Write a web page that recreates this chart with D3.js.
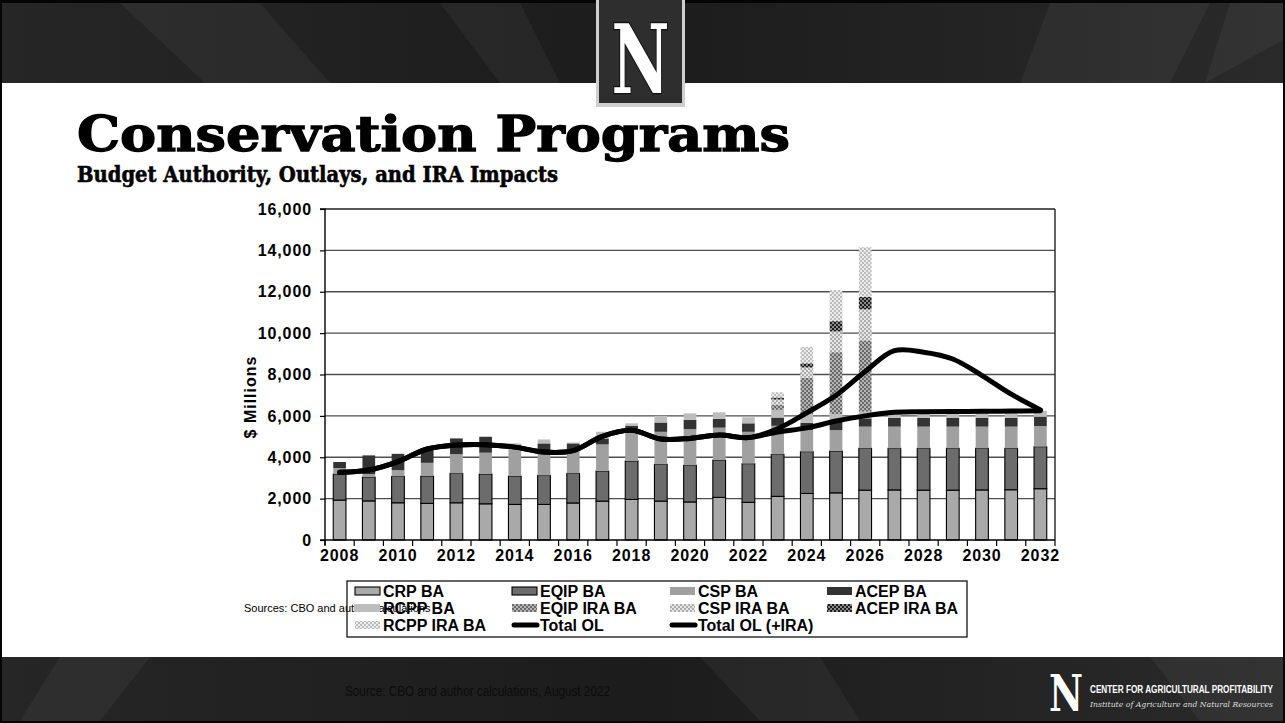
<!DOCTYPE html>
<html><head><meta charset="utf-8">
<script src="https://cdn.jsdelivr.net/npm/d3@7/dist/d3.min.js"></script>
<style>html,body{margin:0;padding:0;background:#000;} svg{display:block;}</style>
</head><body><svg id="c" width="1285" height="723"></svg>
<script>
// ---------------- DATA ----------------
const years = [2008,2009,2010,2011,2012,2013,2014,2015,2016,2017,2018,2019,2020,2021,2022,2023,2024,2025,2026,2027,2028,2029,2030,2031,2032];
const crpBA  = [1930,1890,1800,1770,1800,1750,1720,1720,1790,1880,1960,1880,1840,2060,1820,2110,2250,2280,2410,2420,2410,2410,2420,2430,2480];
const eqipBA = [1260,1150,1275,1320,1420,1440,1370,1400,1430,1450,1860,1780,1770,1800,1870,2030,2020,2020,2020,2010,2020,2020,2010,2000,2030];
const cspBA  = [290,150,300,640,930,1030,1500,1190,1090,1290,1490,1570,1750,1570,1540,1380,1050,1010,1050,1050,1050,1050,1050,1050,1000];
const acepBA = [290,900,790,700,760,770,0,360,360,290,200,450,440,430,410,400,350,410,400,430,430,430,430,430,450];
const rcppBA = [0,0,0,0,0,0,80,190,40,320,130,320,320,310,290,370,420,360,320,240,240,240,240,240,290];
const eqipIRA = [0,0,0,0,0,0,0,0,0,0,0,0,0,0,0,250,1750,3000,3450,0,0,0,0,0,0];
const cspIRA  = [0,0,0,0,0,0,0,0,0,0,0,0,0,0,0,250,500,1000,1500,0,0,0,0,0,0];
const acepIRA = [0,0,0,0,0,0,0,0,0,0,0,0,0,0,0,100,200,500,600,0,0,0,0,0,0];
const rcppIRA = [0,0,0,0,0,0,0,0,0,0,0,0,0,0,0,250,800,1500,2400,0,0,0,0,0,0];
const totalOL    = [3270,3380,3790,4400,4590,4610,4490,4250,4320,5010,5300,4880,4910,5070,4950,5220,5420,5750,6000,6170,6200,6210,6220,6230,6250];
const totalOLIRA = [3270,3380,3790,4400,4590,4610,4490,4250,4320,5010,5300,4880,4910,5070,4950,5380,6150,7000,8150,9150,9080,8750,7950,7050,6290];
const yTicks = [0,2000,4000,6000,8000,10000,12000,14000,16000];
const xTickLabels = [2008,2010,2012,2014,2016,2018,2020,2022,2024,2026,2028,2030,2032];
const seriesNames = ["CRP BA","EQIP BA","CSP BA","ACEP BA","RCPP BA","EQIP IRA BA","CSP IRA BA","ACEP IRA BA","RCPP IRA BA"];
const lineNames = ["Total OL","Total OL (+IRA)"];

// ---------------- SETUP ----------------
const svg = d3.select("#c");
const FONT = "'Liberation Sans', Arial, sans-serif";
const defs = svg.append("defs");

function checker(id, bg, fg){
  const p = defs.append("pattern").attr("id",id).attr("patternUnits","userSpaceOnUse").attr("width",4).attr("height",4);
  p.append("rect").attr("width",4).attr("height",4).attr("fill",bg);
  p.append("rect").attr("x",0).attr("y",0).attr("width",2).attr("height",2).attr("fill",fg);
  p.append("rect").attr("x",2).attr("y",2).attr("width",2).attr("height",2).attr("fill",fg);
}
checker("pEqip","#b4b4b4","#6a6a6a");
checker("pCsp","#e6e6e6","#acacac");
checker("pAcep","#8a8a8a","#1e1e1e");
checker("pRcpp","#ececec","#bcbcbc");

const styles = [
  {fill:"#a9a9a9", stroke:"#000"},
  {fill:"#6c6c6c", stroke:"#000"},
  {fill:"#a0a0a0", stroke:"none"},
  {fill:"#333333", stroke:"none"},
  {fill:"#bdbdbd", stroke:"none"},
  {fill:"url(#pEqip)", stroke:"none"},
  {fill:"url(#pCsp)", stroke:"none"},
  {fill:"url(#pAcep)", stroke:"none"},
  {fill:"url(#pRcpp)", stroke:"none"}
];

// ---------------- SLIDE BACKGROUND ----------------
svg.append("rect").attr("width",1285).attr("height",723).attr("fill","#050505");
const bg = defs.append("linearGradient").attr("id","ban").attr("x1",0).attr("x2",1).attr("y1",0).attr("y2",0);
bg.append("stop").attr("offset",0).attr("stop-color","#262626");
bg.append("stop").attr("offset",0.5).attr("stop-color","#1c1c1c");
bg.append("stop").attr("offset",1).attr("stop-color","#2a2a2a");
svg.append("rect").attr("x",2).attr("y",3).attr("width",1281).attr("height",80).attr("fill","url(#ban)");
svg.append("rect").attr("x",2).attr("y",657).attr("width",1281).attr("height",64).attr("fill","url(#ban)");
const streaks = [
  [[120,3],[260,3],[330,83],[205,83]],
  [[440,3],[520,3],[560,83],[500,83]],
  [[1050,3],[1210,3],[1170,83],[1020,83]],
  [[1230,3],[1283,3],[1283,40],[1205,83]],
  [[60,657],[150,657],[100,721],[20,721]],
  [[700,657],[820,657],[860,721],[760,721]],
  [[1150,657],[1283,657],[1283,721],[1200,721]]
];
svg.append("g").selectAll("polygon").data(streaks).join("polygon")
  .attr("points",d=>d.map(p=>p.join(",")).join(" "))
  .attr("fill","#ffffff").attr("opacity",0.045);
svg.append("rect").attr("x",2).attr("y",83).attr("width",1281).attr("height",574).attr("fill","#fff");

// top N logo
svg.append("rect").attr("x",596).attr("y",0).attr("width",89).attr("height",107).attr("fill","#cfcfcf");
svg.append("rect").attr("x",599).attr("y",0).attr("width",83).attr("height",103).attr("fill","#2e2e2e");
svg.append("text").attr("x",640.5).attr("y",93).attr("text-anchor","middle")
  .attr("font-family","'DejaVu Serif', serif").attr("font-weight","bold").attr("font-size",96)
  .attr("textLength",58).attr("lengthAdjust","spacingAndGlyphs")
  .attr("fill","#fff").attr("stroke","#111").attr("stroke-width",2.5).attr("paint-order","stroke").text("N");

// titles
svg.append("text").attr("x",77).attr("y",151).attr("font-family","'DejaVu Serif', serif").attr("font-weight","bold")
  .attr("font-size",48).attr("textLength",713).attr("lengthAdjust","spacingAndGlyphs").attr("fill","#000")
  .attr("stroke","#000").attr("stroke-width",1.3).text("Conservation Programs");
svg.append("text").attr("x",77).attr("y",182).attr("font-family","'DejaVu Serif', serif").attr("font-weight","bold")
  .attr("font-size",22).attr("textLength",481).attr("lengthAdjust","spacingAndGlyphs").attr("fill","#000")
  .attr("stroke","#000").attr("stroke-width",0.6).text("Budget Authority, Outlays, and IRA Impacts");

// ---------------- CHART ----------------
const x = d3.scaleBand().domain(years).range([325,1055]).paddingInner(0.565).paddingOuter(0.2825);
const y = d3.scaleLinear().domain([0,16000]).range([540,209]);
const keys = ["crp","eqip","csp","acep","rcpp","eqipI","cspI","acepI","rcppI"];
const table = years.map((yr,i)=>({year:yr, crp:crpBA[i], eqip:eqipBA[i], csp:cspBA[i], acep:acepBA[i], rcpp:rcppBA[i],
  eqipI:eqipIRA[i], cspI:cspIRA[i], acepI:acepIRA[i], rcppI:rcppIRA[i]}));
const stacked = d3.stack().keys(keys)(table);

// gridlines
svg.append("g").selectAll("line").data(yTicks.filter(v=>v>0)).join("line")
  .attr("x1",325).attr("x2",1055).attr("y1",d=>y(d)).attr("y2",d=>y(d))
  .attr("stroke",d=>d===16000?"#222":"#4e4e4e").attr("stroke-width",d=>d===16000?1.6:1.3);
svg.append("line").attr("x1",1055).attr("x2",1055).attr("y1",y(16000)).attr("y2",y(0)).attr("stroke","#222").attr("stroke-width",1.4);

// bars
const gb = svg.append("g");
stacked.forEach((layer,li)=>{
  gb.append("g").selectAll("rect").data(layer.filter(d=>d[1]-d[0]>0)).join("rect")
    .attr("x",d=>x(d.data.year)).attr("width",x.bandwidth())
    .attr("y",d=>y(d[1])).attr("height",d=>y(d[0])-y(d[1]))
    .attr("fill",styles[li].fill).attr("stroke",styles[li].stroke).attr("stroke-width",1.1);
});

// lines
const line = d3.line().x((d,i)=>x(years[i])+x.bandwidth()/2).y(d=>y(d)).curve(d3.curveCatmullRom.alpha(0.5));
svg.append("path").attr("d",line(totalOL)).attr("fill","none").attr("stroke","#000").attr("stroke-width",5).attr("stroke-linejoin","round").attr("stroke-linecap","round");
svg.append("path").attr("d",line(totalOLIRA)).attr("fill","none").attr("stroke","#000").attr("stroke-width",5).attr("stroke-linejoin","round").attr("stroke-linecap","round");

// y axis
const ya = svg.append("g").attr("transform","translate(325,0)")
  .call(d3.axisLeft(y).tickValues(yTicks).tickSize(5).tickPadding(8).tickFormat(d3.format(",")));
ya.select(".domain").attr("stroke","#000").attr("stroke-width",1.4).attr("d","M-5,209H0V545");
ya.selectAll(".tick line").attr("stroke","#000").attr("stroke-width",1.2);
ya.selectAll("text").attr("font-family",FONT).attr("font-weight","bold").attr("font-size",16).attr("letter-spacing",0.9).attr("fill","#000");

// x axis
const xa = svg.append("g").attr("transform","translate(0,540)")
  .call(d3.axisBottom(x).tickValues(xTickLabels).tickSize(0).tickPadding(10));
xa.select(".domain").remove();
xa.selectAll("text").attr("font-family",FONT).attr("font-weight","bold").attr("font-size",16).attr("letter-spacing",0.9).attr("fill","#000");
svg.append("line").attr("x1",320).attr("x2",1055).attr("y1",540).attr("y2",540).attr("stroke","#000").attr("stroke-width",1.4);
svg.append("g").selectAll("line").data(years.concat([null])).join("line")
  .attr("x1",(d,i)=>x.range()[0]+i*x.step()).attr("x2",(d,i)=>x.range()[0]+i*x.step())
  .attr("y1",540).attr("y2",546).attr("stroke","#000").attr("stroke-width",1.2);

// y title
svg.append("text").attr("transform","translate(256,397) rotate(-90)").attr("text-anchor","middle")
  .attr("font-family",FONT).attr("font-weight","bold").attr("font-size",16).attr("letter-spacing",1).text("$ Millions");

// sources (inside slide)
svg.append("text").attr("x",244).attr("y",612).attr("font-family",FONT).attr("font-size",11).attr("fill","#000")
  .text("Sources: CBO and author calculations");

// ---------------- LEGEND ----------------
const lg = svg.append("g");
lg.append("rect").attr("x",347).attr("y",581).attr("width",620).attr("height",56).attr("fill","none").attr("stroke","#000").attr("stroke-width",1.2);
const colX = [355,512,670,827];
const rowY = [591,608,625];
const items = seriesNames.map((n,i)=>({name:n, type:"bar", idx:i})).concat(lineNames.map((n,i)=>({name:n,type:"line",idx:i})));
items.forEach((it,k)=>{
  const cx = colX[k%4], cy = rowY[Math.floor(k/4)];
  if(it.type==="bar"){
    lg.append("rect").attr("x",cx).attr("y",cy-4).attr("width",25).attr("height",8)
      .attr("fill",styles[it.idx].fill).attr("stroke",styles[it.idx].stroke).attr("stroke-width",1.1);
  } else {
    lg.append("line").attr("x1",cx+2).attr("x2",cx+25).attr("y1",cy).attr("y2",cy).attr("stroke","#000").attr("stroke-width",5).attr("stroke-linecap","round");
  }
  lg.append("text").attr("x",cx+28).attr("y",cy).attr("dy","0.36em").attr("font-family",FONT).attr("font-weight","bold")
    .attr("font-size",16).attr("fill","#000").text(it.name);
});

// ---------------- FOOTER ----------------
svg.append("text").attr("x",345).attr("y",696).attr("font-family",FONT).attr("font-size",14)
  .attr("textLength",265).attr("lengthAdjust","spacingAndGlyphs").attr("fill","#0c0c0c").text("Source: CBO and author calculations, August 2022");
svg.append("text").attr("x",1066).attr("y",711).attr("text-anchor","middle").attr("font-family","'DejaVu Serif', serif")
  .attr("font-weight","bold").attr("font-size",50).attr("textLength",34).attr("lengthAdjust","spacingAndGlyphs")
  .attr("fill","#fff").attr("stroke","#222").attr("stroke-width",1).attr("paint-order","stroke").text("N");
svg.append("text").attr("x",1090).attr("y",693).attr("font-family",FONT).attr("font-weight","bold").attr("font-size",10)
  .attr("textLength",183).attr("lengthAdjust","spacingAndGlyphs").attr("fill","#fff").text("CENTER FOR AGRICULTURAL PROFITABILITY");
svg.append("text").attr("x",1090).attr("y",707).attr("font-family","'DejaVu Serif', serif").attr("font-style","italic").attr("font-size",8)
  .attr("textLength",183).attr("lengthAdjust","spacingAndGlyphs").attr("fill","#ddd").text("Institute of Agriculture and Natural Resources");
</script></body></html>
